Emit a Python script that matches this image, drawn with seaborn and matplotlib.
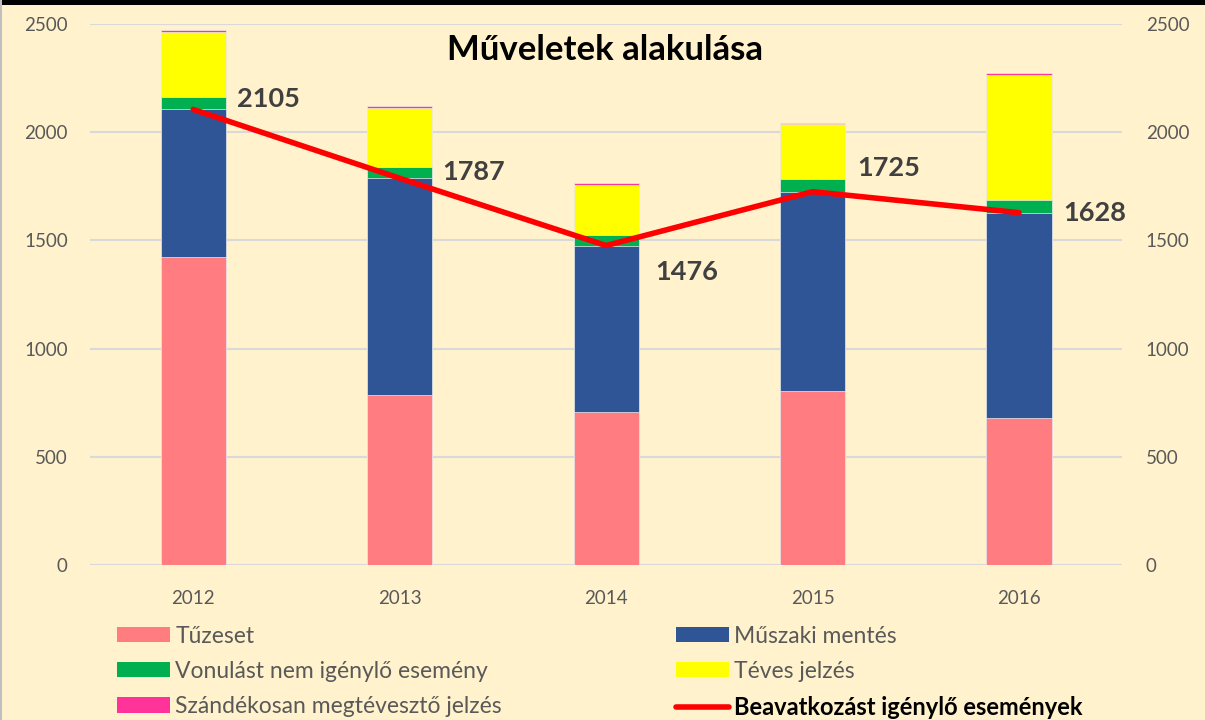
import numpy as np
import pandas as pd
import matplotlib
matplotlib.use("Agg")
import matplotlib.pyplot as plt
from matplotlib.patches import Rectangle, Patch
from matplotlib.lines import Line2D
import seaborn as sns

years = ["2012", "2013", "2014", "2015", "2016"]
tuzeset = [1425, 784, 706, 804, 678]
muszaki = [680, 1003, 770, 921, 950]
vonulast_nem = [59, 53, 49, 57, 59]
teves = [300, 273, 231, 254, 577]
szandekos = [10, 6, 8, 8, 8]
beavatkozas = [2105, 1787, 1476, 1725, 1628]

series_names = ["Tűzeset", "Műszaki mentés", "Vonulást nem igénylő esemény",
                "Téves jelzés", "Szándékosan megtévesztő jelzés"]
line_name = "Beavatkozást igénylő események"
colors = ["#FF7C80", "#2F5597", "#00B050", "#FFFF00", "#FF3399"]
line_color = "#FF0000"
bg = "#FFF2CC"
txt = "#595959"

sns.set_theme(style="white")
plt.rcParams["font.family"] = ["Lato", "DejaVu Sans"]

fig = plt.figure(figsize=(12.05, 7.2), dpi=100, facecolor=bg)
ax = fig.add_axes([0.0747, 0.2153, 0.8566, 0.7514])
ax.set_facecolor(bg)

stack = np.array([tuzeset, muszaki, vonulast_nem, teves, szandekos], dtype=float)
cum = np.cumsum(stack, axis=0)
for i in range(len(series_names) - 1, -1, -1):
    df = pd.DataFrame({"year": years, "value": cum[i]})
    sns.barplot(data=df, x="year", y="value", color=colors[i], saturation=1,
                width=0.315, edgecolor="#EDEDED", linewidth=0.5, ax=ax, zorder=2)

xpos = np.arange(len(years))
sns.lineplot(x=xpos, y=beavatkozas, color=line_color, linewidth=4, ax=ax,
             zorder=4, solid_capstyle="round")

offsets = [(44, 10), (43, 6), (49, -26), (45, 24), (44, 0)]
for x, v, (dx, dy) in zip(xpos, beavatkozas, offsets):
    ax.annotate(f"{v}", (x, v), xytext=(dx, dy), textcoords="offset pixels",
                ha="left", va="center", fontsize=19.5, fontweight="bold",
                color="#404040", zorder=5)

ax.set_xlim(-0.5, 4.5)
ax.set_ylim(0, 2500)
ax.set_yticks(np.arange(0, 2501, 500))
ax.yaxis.grid(True, color="#D9D9D9", linewidth=1.5, zorder=0)
ax.set_axisbelow(True)
for s in ax.spines.values():
    s.set_visible(False)
ax.set_xlabel("")
ax.set_ylabel("")
ax.tick_params(axis="y", length=0, pad=16, labelsize=13.5, labelcolor=txt)
ax.tick_params(axis="x", length=0, pad=18, labelsize=13.5, labelcolor=txt)

ax2 = ax.twinx()
ax2.set_ylim(0, 2500)
ax2.set_yticks(np.arange(0, 2501, 500))
for s in ax2.spines.values():
    s.set_visible(False)
ax2.tick_params(axis="y", length=0, pad=17, labelsize=13.5, labelcolor=txt)
ax2.grid(False)

fig.text(0.502, 0.930, "Műveletek alakulása", ha="center", va="center",
         fontsize=25, fontweight="bold", color="black")

# legends
h = [Patch(facecolor=c, edgecolor="none") for c in colors]
hl = Line2D([], [], color=line_color, linewidth=4)
common = dict(loc="upper left", frameon=False, fontsize=16.5, handlelength=2.3,
              handleheight=0.65, labelspacing=0.62, handletextpad=0.25,
              borderaxespad=0, borderpad=0)
leg1 = fig.legend([h[0], h[2], h[4]], [series_names[0], series_names[2], series_names[4]],
                  bbox_to_anchor=(0.097, 0.131), **common)
for t in leg1.get_texts():
    t.set_color(txt)
leg2 = fig.legend([h[1], h[3], hl], [series_names[1], series_names[3], line_name],
                  bbox_to_anchor=(0.561, 0.131), **common)
texts2 = leg2.get_texts()
for t in texts2:
    t.set_color(txt)
texts2[2].set_color("black")
texts2[2].set_fontweight("bold")
texts2[2].set_fontsize(17)

# frame borders
fig.patches.append(Rectangle((0, 0.993), 1, 0.007, transform=fig.transFigure,
                             facecolor="black", edgecolor="none", zorder=10))
fig.patches.append(Rectangle((0, 0), 0.002, 1, transform=fig.transFigure,
                             facecolor="#BFBFBF", edgecolor="none", zorder=10))

fig.savefig("out.png", dpi=100, facecolor=bg)
